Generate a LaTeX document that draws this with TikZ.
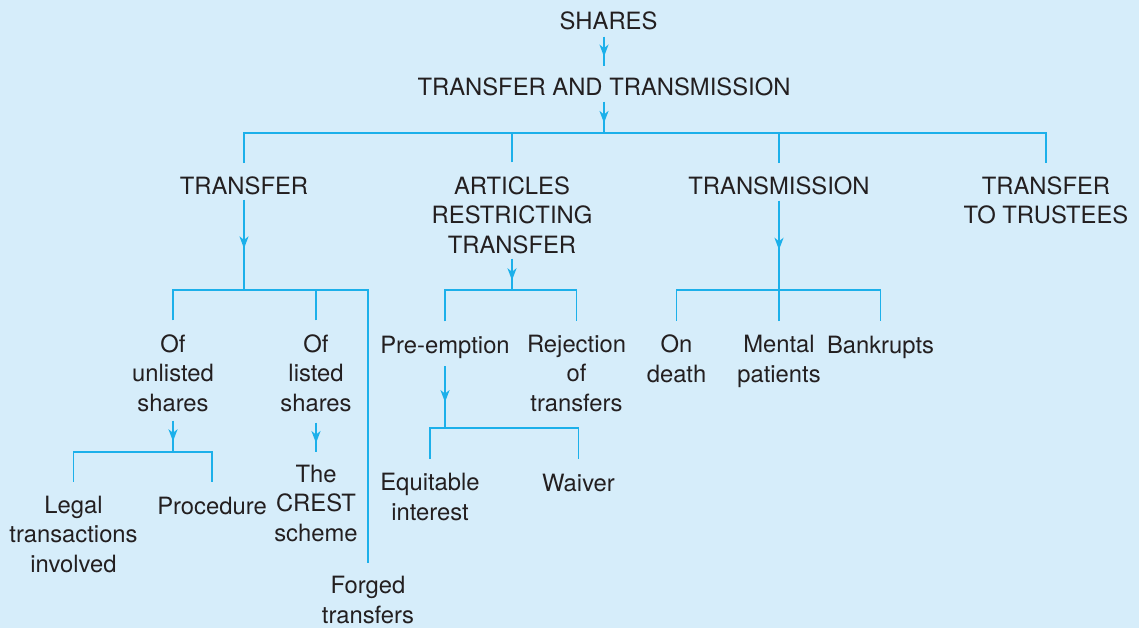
\documentclass[tikz,border=0pt]{standalone}
\usepackage{fontspec}
\setmainfont{TeX Gyre Heros}
\usetikzlibrary{arrows.meta,decorations.markings,calc}
\definecolor{bgblue}{HTML}{D6EDFA}
\definecolor{lineblue}{HTML}{1CB0EA}
\definecolor{txt}{HTML}{231F20}
\tikzset{
 lbl/.style={anchor=base, align=center, inner sep=0pt, text=txt, font=\fontsize{23.8pt}{29.3pt}\selectfont},
 con/.style={draw=lineblue, line width=1.8pt},
 midarrow/.style={postaction={decorate}, decoration={markings, mark=at position #1 with {\arrow{Stealth[length=12pt,width=9pt,inset=3.5pt]}}}},
}
\begin{document}
\begin{tikzpicture}[x=1pt,y=-1pt]
\fill[bgblue] (0,0) rectangle (1139,628);
\useasboundingbox (0,0) rectangle (1139,628);
% nodes (anchor = baseline of the last line)
\node[lbl] (shares) at (608.5,30) {SHARES};
\node[lbl] (tt) at (604,96) {TRANSFER AND TRANSMISSION};
\node[lbl] (transfer) at (244,195) {TRANSFER};
\node[lbl] (articles) at (512,253) {ARTICLES\\RESTRICTING\\TRANSFER};
\node[lbl] (transmission) at (779,195) {TRANSMISSION};
\node[lbl] (trustees) at (1046,224) {TRANSFER\\TO TRUSTEES};
\node[lbl] (unlisted) at (173,411) {Of\\unlisted\\shares};
\node[lbl] (listed) at (316,411) {Of\\listed\\shares};
\node[lbl] (pre) at (445,353) {Pre-emption};
\node[lbl] (reject) at (576.5,411) {Rejection\\of\\transfers};
\node[lbl] (death) at (676.5,382) {On\\death};
\node[lbl] (mental) at (779,382) {Mental\\patients};
\node[lbl] (bankrupts) at (880.5,353) {Bankrupts};
\node[lbl] (legal) at (73.5,572) {Legal\\transactions\\involved};
\node[lbl] (procedure) at (212,514) {Procedure};
\node[lbl] (crest) at (316,541) {The\\CREST\\scheme};
\node[lbl] (forged) at (368,623) {Forged\\transfers};
\node[lbl] (equitable) at (430,520) {Equitable\\interest};
\node[lbl] (waiver) at (578.5,491) {Waiver};
% junctions
\coordinate (j0) at (604,133);
\coordinate (j1) at (transfer.south |- 0,290);
\coordinate (j2) at (unlisted.south |- 0,452);
\coordinate (j3) at (articles.south |- 0,290);
\coordinate (j4) at (pre.south |- 0,428);
\coordinate (j5) at (transmission.south |- 0,290);
% connectors
\draw[con,midarrow=0.68] ($(tt.north |- shares.south)+(0,6)$) -- ($(tt.north)+(0,-12)$);
\draw[con,midarrow=0.68] ($(tt.south)+(0,5)$) -- (j0);
\draw[con] ($(transfer.north)+(0,-14)$) -- (transfer.north |- j0) -- (trustees.north |- j0) -- ($(trustees.north)+(0,-14)$);
\draw[con] ($(articles.north)+(0,-14)$) -- (articles.north |- j0);
\draw[con] ($(transmission.north)+(0,-14)$) -- (transmission.north |- j0);
% transfer branch
\draw[con,midarrow=0.54] ($(transfer.south)+(0,4)$) -- (j1);
\draw[con] ($(unlisted.north)+(0,-14)$) -- (unlisted.north |- j1) -- (forged.north |- j1) -- ($(forged.north)+(0,-13)$);
\draw[con] ($(listed.north)+(0,-14)$) -- (listed.north |- j1);
\draw[con,midarrow=0.66] ($(unlisted.south)+(0,9)$) -- (j2);
\draw[con] ($(legal.north)+(0,-14)$) -- (legal.north |- j2) -- (procedure.north |- j2) -- ($(procedure.north)+(0,-14)$);
\draw[con,midarrow=0.7] ($(listed.south)+(0,11)$) -- ($(crest.north)+(0,-13)$);
% articles branch
\draw[con,midarrow=0.69] ($(articles.south)+(0,5)$) -- (j3);
\draw[con] ($(pre.north)+(0,-14)$) -- (pre.north |- j3) -- (reject.north |- j3) -- ($(reject.north)+(0,-14)$);
\draw[con,midarrow=0.58] ($(pre.south)+(0,8)$) -- (j4);
\draw[con] ($(equitable.north)+(0,-14)$) -- (equitable.north |- j4) -- (waiver.north |- j4) -- ($(waiver.north)+(0,-14)$);
% transmission branch
\draw[con,midarrow=0.55] ($(transmission.south)+(0,5)$) -- (j5);
\draw[con] ($(death.north)+(0,-14)$) -- (death.north |- j5) -- (bankrupts.north |- j5) -- ($(bankrupts.north)+(0,-14)$);
\draw[con] ($(mental.north)+(0,-14)$) -- (mental.north |- j5);
\end{tikzpicture}
\end{document}
